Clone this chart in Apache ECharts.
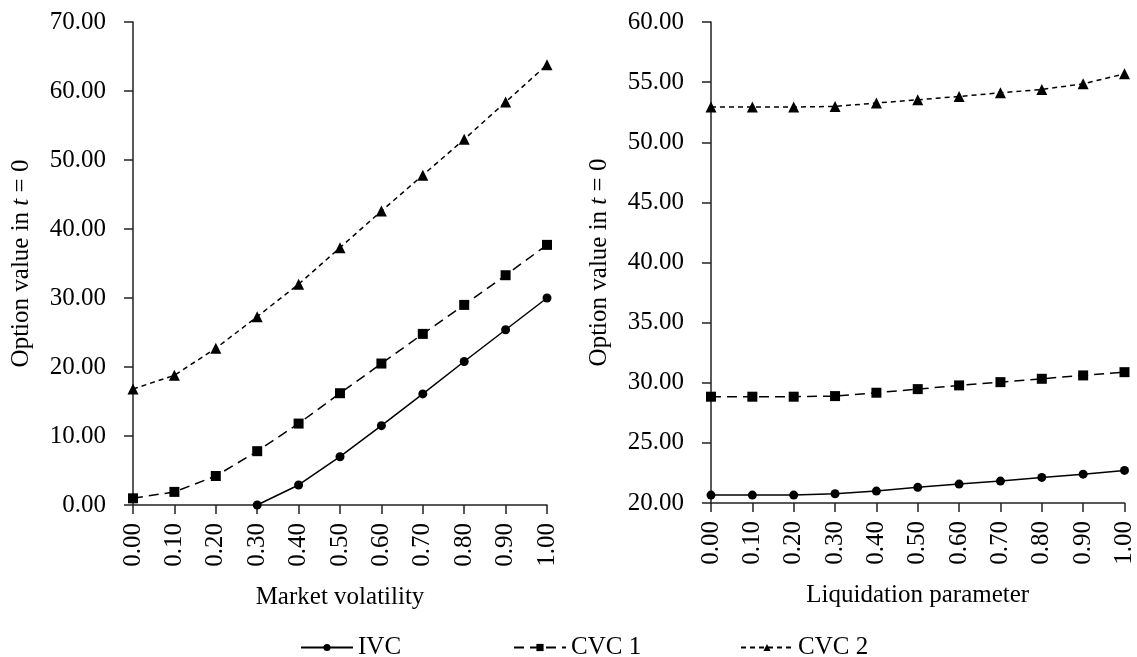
<!DOCTYPE html>
<html>
<head>
<meta charset="utf-8">
<script src="https://cdn.jsdelivr.net/npm/echarts@6/dist/echarts.min.js"></script>
<style>
html,body{margin:0;padding:0;background:#fff;}
#chart{width:1137px;height:657px;}
</style>
</head>
<body>
<div id="chart"></div>
<script>
const xLabels = ['0.00','0.10','0.20','0.30','0.40','0.50','0.60','0.70','0.80','0.90','1.00'];
const volIVC  = [null, null, null, 0, 2.9, 7.0, 11.5, 16.1, 20.8, 25.4, 30.0];
const volCVC1 = [0.97, 1.9, 4.2, 7.8, 11.8, 16.2, 20.5, 24.8, 29.0, 33.3, 37.7];
const volCVC2 = [16.8, 18.8, 22.7, 27.3, 32.0, 37.3, 42.6, 47.8, 53.0, 58.4, 63.8];
const liqIVC  = [20.66, 20.66, 20.66, 20.77, 20.99, 21.3, 21.57, 21.82, 22.13, 22.4, 22.71];
const liqCVC1 = [28.84, 28.84, 28.84, 28.89, 29.17, 29.47, 29.78, 30.05, 30.33, 30.61, 30.88];
const liqCVC2 = [52.93, 52.93, 52.93, 52.98, 53.26, 53.53, 53.81, 54.11, 54.39, 54.86, 55.69];
const seriesNames = ['IVC', 'CVC 1', 'CVC 2'];
const xNames = ['Market volatility', 'Liquidation parameter'];
const yName = 'Option value in {it|t} = 0';

const FONT = 'Liberation Serif';
const FS = 25;
const AX = '#222';

function xAxis(idx, name) {
  return {
    type: 'category', gridIndex: idx, data: xLabels, boundaryGap: false,
    name: name, nameLocation: 'middle', nameGap: 80,
    nameTextStyle: {fontFamily: FONT, fontSize: FS, color: '#000'},
    axisLine: {lineStyle: {color: AX, width: 1.5}},
    axisTick: {alignWithLabel: true, length: 9, lineStyle: {color: AX, width: 1.5}},
    axisLabel: {rotate: 90, margin: 18, fontFamily: FONT, fontSize: FS, color: '#000', interval: 0},
    splitLine: {show: false}
  };
}
function yAxis(idx, min, max, interval) {
  return {
    type: 'value', gridIndex: idx, min: min, max: max, interval: interval,
    name: yName, nameLocation: 'middle', nameGap: 99,
    nameTextStyle: {fontFamily: FONT, fontSize: FS, color: '#000',
      rich: {it: {fontFamily: FONT, fontSize: FS, fontStyle: 'italic', color: '#000'}}},
    axisLine: {show: true, lineStyle: {color: AX, width: 1.5}},
    axisTick: {show: true, length: 9, lineStyle: {color: AX, width: 1.5}},
    axisLabel: {margin: 27, fontFamily: FONT, fontSize: FS, color: '#000',
      formatter: v => v.toFixed(2)},
    splitLine: {show: false}
  };
}
const styles = [
  {symbol: 'circle', symbolSize: 9, type: 'solid'},
  {symbol: 'rect', symbolSize: 10, type: [10, 6]},
  {symbol: 'triangle', symbolSize: 11, type: [5, 4]}
];
function mk(nameIdx, idx, data) {
  const s = styles[nameIdx];
  return {
    type: 'line', name: seriesNames[nameIdx], xAxisIndex: idx, yAxisIndex: idx,
    data: data, symbol: s.symbol, symbolSize: s.symbolSize, showSymbol: true,
    connectNulls: false, animation: false,
    lineStyle: {color: '#000', width: 1.5, type: s.type},
    itemStyle: {color: '#000'}
  };
}
function leg(nameIdx, left) {
  return {
    data: [seriesNames[nameIdx]], left: left, top: 630,
    itemWidth: 52, itemHeight: 9, itemGap: 10,
    textStyle: {fontFamily: FONT, fontSize: FS, color: '#000'}
  };
}

const chart = echarts.init(document.getElementById('chart'), null, {renderer: 'canvas'});
chart.setOption({
  backgroundColor: '#fff',
  animation: false,
  legend: [leg(0, 295), leg(1, 508), leg(2, 735)],
  grid: [
    {left: 133, right: 590, top: 22, bottom: 152},
    {left: 711, right: 12, top: 22, bottom: 154}
  ],
  xAxis: [xAxis(0, xNames[0]), xAxis(1, xNames[1])],
  yAxis: [yAxis(0, 0, 70, 10), yAxis(1, 20, 60, 5)],
  series: [
    mk(0, 0, volIVC), mk(1, 0, volCVC1), mk(2, 0, volCVC2),
    mk(0, 1, liqIVC), mk(1, 1, liqCVC1), mk(2, 1, liqCVC2)
  ]
});
</script>
</body>
</html>
